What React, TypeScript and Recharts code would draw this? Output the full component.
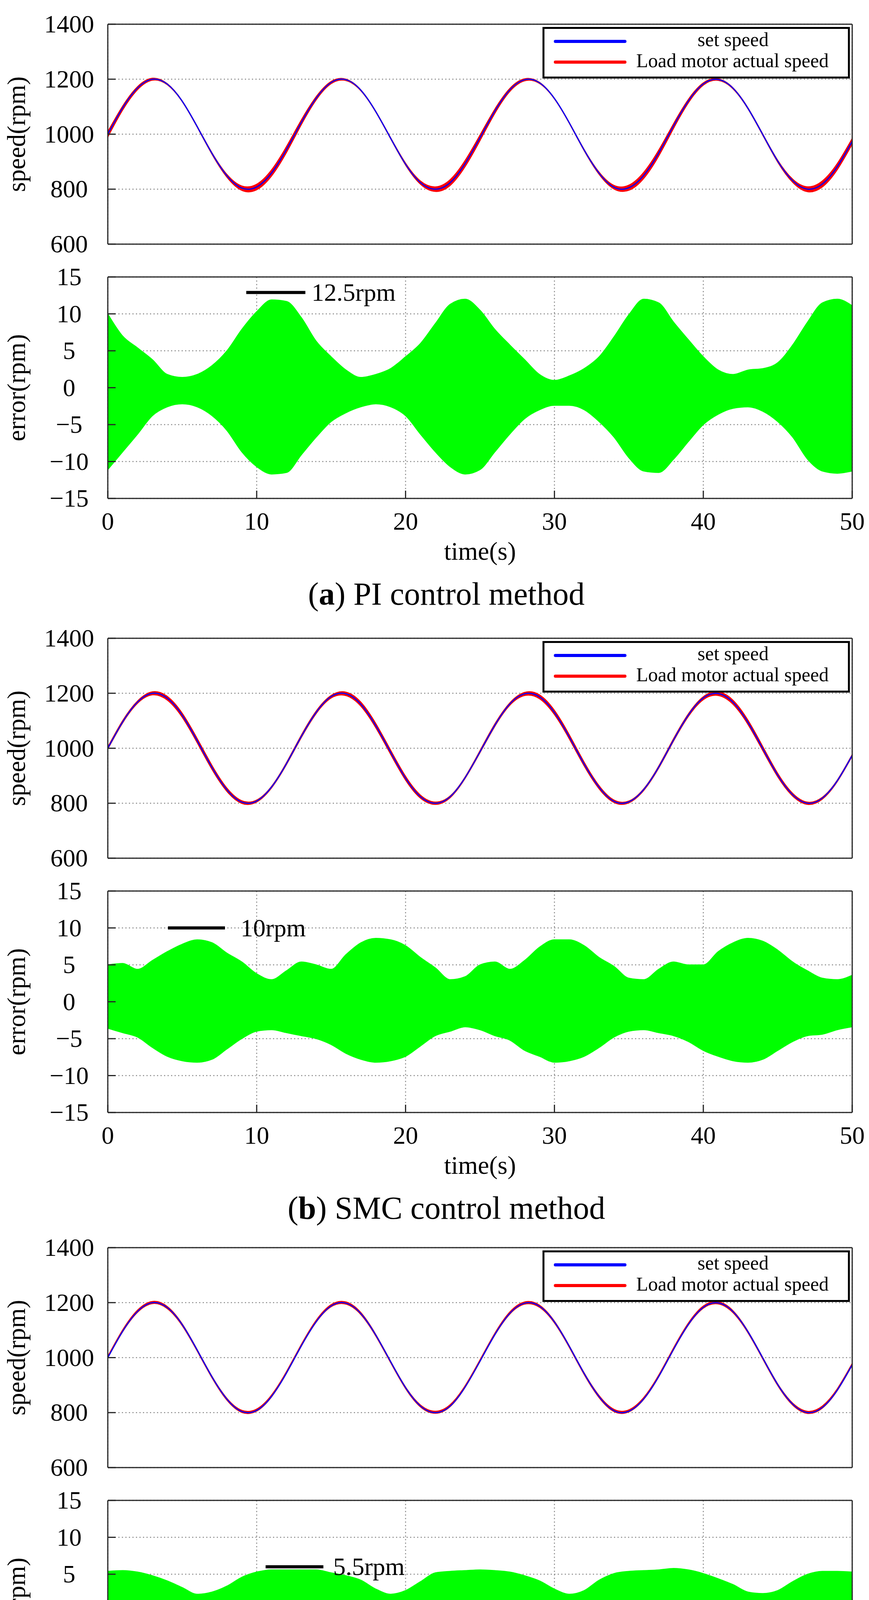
import React from 'react';
import { ComposedChart, Line, Area, XAxis, YAxis, CartesianGrid, ReferenceLine, Legend } from 'recharts';

// time axis (s), one sample per second
const time = [
  0, 1, 2, 3, 4, 5, 6, 7, 8, 9, 10, 11, 12, 13, 14, 15, 16, 17, 18, 19, 20, 21, 22, 23, 24, 25,
  26, 27, 28, 29, 30, 31, 32, 33, 34, 35, 36, 37, 38, 39, 40, 41, 42, 43, 44, 45, 46, 47, 48, 49, 50,
];

// set speed (rpm), same reference in all three runs
const setSpeed = [
  1000, 1096, 1168, 1200, 1182, 1120, 1028, 930, 849, 804, 808, 859, 944, 1043, 1131, 1188, 1198,
  1160, 1082, 985, 891, 824, 800, 824, 893, 987, 1084, 1161, 1198, 1187, 1130, 1041, 942, 858, 807,
  805, 850, 931, 1030, 1121, 1183, 1199, 1167, 1094, 998, 902, 831, 800, 819, 882, 974,
];

// speed error envelopes (rpm)
const piUpper = [
  10.0, 7.0, 5.4, 3.8, 1.8, 1.4, 1.8, 3.0, 5.0, 7.9, 10.3, 11.9, 11.7, 9.5, 6.3, 4.2, 2.4, 1.4, 1.8,
  2.6, 4.2, 6.0, 8.7, 11.3, 12.0, 10.5, 7.9, 5.8, 3.8, 1.8, 1.0, 1.6, 2.6, 4.2, 6.9, 9.9, 12.0, 11.5,
  8.9, 6.5, 4.2, 2.4, 1.8, 2.4, 2.6, 3.4, 5.8, 8.9, 11.5, 12.0, 11.1,
];
const piLower = [
  -11.1, -8.7, -6.3, -3.8, -2.6, -2.2, -2.6, -3.8, -5.8, -8.7, -10.7, -11.7, -11.5, -9.1, -6.7, -4.6,
  -3.4, -2.6, -2.2, -2.6, -3.8, -6.3, -8.7, -10.7, -11.7, -11.1, -8.7, -6.3, -4.2, -3.0, -2.4, -2.4,
  -3.0, -4.6, -6.7, -9.5, -11.3, -11.5, -9.7, -7.3, -5.0, -3.6, -2.8, -2.6, -3.2, -4.6, -6.7, -9.7,
  -11.3, -11.6, -11.3,
];
const smcUpper = [
  5.0, 5.2, 4.4, 5.6, 6.8, 7.8, 8.4, 8.0, 6.6, 5.4, 3.8, 3.0, 4.2, 5.4, 5.0, 4.4, 6.4, 8.0, 8.6, 8.4,
  7.6, 6.0, 4.6, 3.0, 3.4, 5.0, 5.4, 4.4, 5.6, 7.4, 8.4, 8.4, 7.6, 6.0, 4.8, 3.2, 3.0, 4.4, 5.4, 5.0,
  5.0, 6.8, 8.0, 8.6, 8.2, 7.0, 5.4, 4.2, 3.2, 3.0, 3.6,
];
const smcLower = [
  -3.6, -4.2, -4.8, -6.2, -7.4, -8.0, -8.2, -7.8, -6.4, -5.0, -4.0, -3.8, -4.2, -4.6, -5.0, -5.8,
  -7.0, -7.8, -8.2, -8.0, -7.4, -6.0, -4.6, -4.0, -3.4, -3.8, -4.6, -5.2, -6.6, -7.4, -8.2, -8.0,
  -7.4, -6.2, -4.8, -4.0, -3.8, -4.2, -4.6, -5.4, -6.6, -7.4, -8.0, -8.2, -7.8, -6.6, -5.4, -4.6,
  -4.4, -3.8, -3.4,
];
const nsmcUpper = [
  5.4, 5.5, 5.3, 4.8, 4.1, 3.2, 2.3, 2.6, 3.4, 4.6, 5.3, 5.6, 5.6, 5.6, 5.6, 5.2, 4.8, 4.2, 3.0, 2.3,
  2.8, 4.0, 5.2, 5.4, 5.5, 5.6, 5.5, 5.3, 4.8, 4.1, 3.0, 2.3, 2.8, 4.2, 5.1, 5.4, 5.5, 5.6, 5.8, 5.6,
  5.1, 4.4, 3.6, 2.6, 2.4, 2.8, 4.0, 5.0, 5.4, 5.4, 5.3,
];
const nsmcLower = [
  -1.6, -2.6, -3.3, -3.8, -4.2, -4.3, -4.3, -4.3, -4.2, -3.6, -2.8, -2.2, -2.0, -2.0, -2.4, -3.2,
  -3.8, -4.1, -4.2, -4.3, -4.2, -3.8, -3.0, -2.4, -2.0, -2.0, -2.4, -3.2, -3.8, -4.3, -4.4, -4.4,
  -4.4, -4.2, -3.6, -2.6, -2.2, -2.0, -2.2, -2.6, -3.4, -4.0, -4.4, -4.4, -4.4, -4.4, -4.2, -3.4,
  -2.8, -2.4, -2.4,
];

const xTicks = [0, 10, 20, 30, 40, 50];
const speedTicks = [600, 800, 1000, 1200, 1400];
const errorTicks = [-15, -10, -5, 0, 5, 10, 15];

const legendNames = ['set speed', 'Load motor actual speed'];

// peak-to-peak marker in each error plot: [x start, x end, y, text]
const notes: [number, number, number, string][] = [
  [9.3, 13.27, 12.9, '12.5rpm'],
  [4.04, 7.87, 10, '10rpm'],
  [10.6, 14.48, 6.0, '5.5rpm'],
];
const noteOffsets = [16, 40, 25];

const captions = [
  ['a', 'PI control method'],
  ['b', 'SMC control method'],
  ['c', 'NSMC control method'],
];

const FONT = '"Liberation Serif", "Times New Roman", serif';
const W = 2225;
const PLOT_L = 276;
const PLOT_R = 2182;
const SPEED_H = 563;
const ERR_H = 567;
const PANEL_TOPS = [0, 1572, 3132];
const axisStyle = { stroke: '#262626', strokeWidth: 3 };
// axes take 1px each, so margins are one pixel short of the plot edges
const margins = (bottom: number) => ({ top: 61, right: W - PLOT_R - 1, bottom, left: PLOT_L - 1 });

const fmtErr = (v: number) => (v < 0 ? '\u2212' + Math.abs(v) : String(v));

const yTick = (fmt: (v: number) => string) => (p: any) => (
  <text x={177} y={p.payload.coordinate + 21} textAnchor="middle" fontSize={64} fontFamily={FONT} fill="#000">
    {fmt(p.payload.value)}
  </text>
);

const yLabel = (text: string, cy: number) => () => (
  <text x={64} y={cy} transform={`rotate(-90 64 ${cy})`} textAnchor="middle" fontSize={65} fontFamily={FONT} fill="#000">
    {text}
  </text>
);

const renderLegend = () => (
  <div style={{ width: 787, height: 132, border: '5px solid #000', boxSizing: 'border-box', background: '#fff' }}>
    <svg width={777} height={122} style={{ display: 'block' }}>
      <line x1={28} x2={206} y1={32} y2={32} stroke="#0000ff" strokeWidth={8} strokeLinecap="round" />
      <line x1={28} x2={206} y1={85} y2={85} stroke="#ff0000" strokeWidth={8} strokeLinecap="round" />
      <text x={483} y={44} textAnchor="middle" fontSize={50} fontFamily={FONT} fill="#000">{legendNames[0]}</text>
      <text x={235} y={98} fontSize={50} fontFamily={FONT} fill="#000">{legendNames[1]}</text>
    </svg>
  </div>
);

const Frame = (yDomain: number[], yTicks: number[], fmt: (v: number) => string, showX: boolean, label: string, cy: number) => [
  <XAxis key="xb" dataKey="t" type="number" domain={[0, 50]} ticks={xTicks} interval={0} allowDataOverflow height={1}
    tickSize={-20} axisLine={axisStyle} tickLine={axisStyle}
    tick={showX ? (p: any) => (
      <text x={p.payload.coordinate} y={62 + ERR_H + 80} textAnchor="middle" fontSize={64} fontFamily={FONT} fill="#000">{p.payload.value}</text>
    ) : false}
    label={showX ? () => (
      <text x={(PLOT_L + PLOT_R) / 2} y={62 + ERR_H + 157} textAnchor="middle" fontSize={65} fontFamily={FONT} fill="#000">time(s)</text>
    ) : undefined}
  />,
  <XAxis key="xt" xAxisId="top" orientation="top" type="number" domain={[0, 50]} ticks={xTicks} interval={0} allowDataOverflow
    height={1} tickSize={-20} tick={false} axisLine={axisStyle} tickLine={axisStyle} />,
  <YAxis key="yl" type="number" domain={yDomain} ticks={yTicks} interval={0} allowDataOverflow width={1} tickSize={-20}
    axisLine={axisStyle} tickLine={axisStyle} tick={yTick(fmt)} label={yLabel(label, cy)} />,
  <YAxis key="yr" yAxisId="right" orientation="right" type="number" domain={yDomain} ticks={yTicks} interval={0} allowDataOverflow
    width={1} tickSize={-20} tick={false} axisLine={axisStyle} tickLine={axisStyle} />,
];

const Panel: React.FC<{ idx: number; upper: number[]; lower: number[] }> = ({ idx, upper, lower }) => {
  const top = PANEL_TOPS[idx];
  const rows = time.map((t, i) => ({ t, set: setSpeed[i], lo: lower[i], hi: upper[i] }));
  const [x1, x2, ny, ntext] = notes[idx];
  const [tag, name] = captions[idx];
  return (
    <>
      <div style={{ position: 'absolute', left: 0, top }}>
        <ComposedChart width={W} height={62 + SPEED_H + 45} data={rows} margin={margins(44)}>
          <CartesianGrid stroke="#8c8c8c" strokeWidth={2.5} strokeDasharray="3 6" />
          <Area dataKey={(r: any) => [r.set + r.lo, r.set + r.hi]} type="natural" stroke="#ff0000" strokeWidth={2}
            fill="#ff0000" fillOpacity={1} isAnimationActive={false} />
          <Line dataKey="set" type="natural" stroke="#0000ff" strokeWidth={3} dot={false} activeDot={false} isAnimationActive={false} />
          {Frame([600, 1400], speedTicks, String, false, 'speed(rpm)', 62 + SPEED_H / 2)}
          <Legend layout="horizontal" verticalAlign="middle" align="center" content={renderLegend}
            wrapperStyle={{ position: 'absolute', left: 1389, top: 69, width: 787, height: 132 }} />
        </ComposedChart>
      </div>
      <div style={{ position: 'absolute', left: 0, top: top + 647 }}>
        <ComposedChart width={W} height={62 + ERR_H + 187} data={rows} margin={margins(186)}>
          <CartesianGrid stroke="#8c8c8c" strokeWidth={2.5} strokeDasharray="3 6" />
          <Area dataKey={(r: any) => [r.lo, r.hi]} type="monotone" stroke="#00ff00" strokeWidth={2}
            fill="#00ff00" fillOpacity={1} isAnimationActive={false} />
          <ReferenceLine segment={[{ x: x1, y: ny }, { x: x2, y: ny }]} stroke="#000" strokeWidth={8}
            label={(p: any) => (
              <text x={p.viewBox.x + p.viewBox.width + noteOffsets[idx]} y={p.viewBox.y + 21} fontSize={64} fontFamily={FONT} fill="#000">{ntext}</text>
            )} />
          {Frame([-15, 15], errorTicks, fmtErr, true, 'error(rpm)', 62 + ERR_H / 2)}
        </ComposedChart>
      </div>
      <svg width={W} height={130} style={{ position: 'absolute', left: 0, top: top + 1460 }}>
        <text x={1143} y={88} textAnchor="middle" fontSize={82} fontFamily={FONT} fill="#000">
          (<tspan fontWeight="bold">{tag}</tspan>) {name}
        </text>
      </svg>
    </>
  );
};

export default function App() {
  return (
    <div style={{ position: 'absolute', left: 0, top: 0, width: W, height: 4730, background: '#fff', fontFamily: FONT }}>
      <Panel idx={0} upper={piUpper} lower={piLower} />
      <Panel idx={1} upper={smcUpper} lower={smcLower} />
      <Panel idx={2} upper={nsmcUpper} lower={nsmcLower} />
    </div>
  );
}
